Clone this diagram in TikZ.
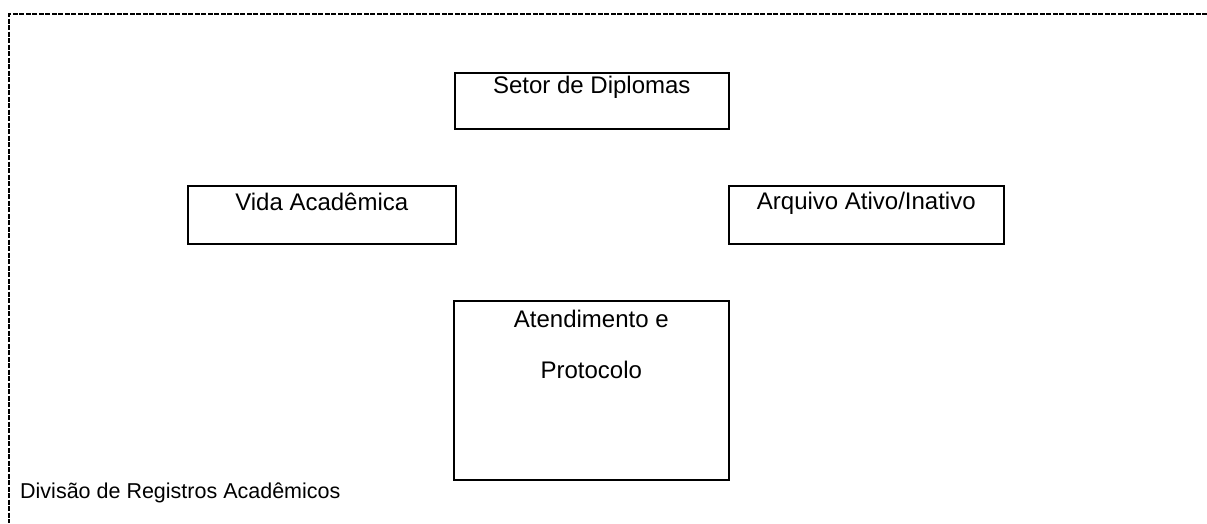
\documentclass[tikz,border=0pt]{standalone}
\usepackage{fontspec}
\setmainfont{Liberation Sans}
\begin{document}
\begin{tikzpicture}[x=1pt,y=-1pt,
  unitbox/.style={draw=black, line width=1.6pt, rectangle, inner sep=0pt, anchor=north west},
  boxtext/.style={font=\fontsize{24}{28}\selectfont, inner sep=0pt, anchor=base},
  frameline/.style={draw=black, line width=1.4pt, dash pattern=on 5pt off 1.5pt}
]
\useasboundingbox (0,0) rectangle (1207,523);
% outer dashed frame (top and left sides)
\coordinate (frameTR) at (1207,14);
\coordinate (frameTL) at (9,14);
\coordinate (frameBL) at (9,523);
\draw[frameline] (frameTR) -- (frameTL) -- (frameBL);

% boxes
\node[unitbox, minimum width=274pt, minimum height=56pt] (setor) at (454,72) {};
\node[unitbox, minimum width=268pt, minimum height=58pt] (vida) at (187,185) {};
\node[unitbox, minimum width=275pt, minimum height=58pt] (arquivo) at (728,185) {};
\node[unitbox, minimum width=275pt, minimum height=179pt] (atend) at (453,300) {};

% texts
\node[boxtext] (setorT) at ([yshift=-21pt]setor.north) {Setor de Diplomas};
\node[boxtext] (vidaT) at ([yshift=-25pt]vida.north) {Vida Acadêmica};
\node[boxtext] (arquivoT) at ([yshift=-24pt]arquivo.north) {Arquivo Ativo/Inativo};
\node[boxtext] (atendT1) at ([yshift=-27pt]atend.north) {Atendimento e};
\node[boxtext] (atendT2) at ([yshift=-78pt]atend.north) {Protocolo};

\node[font=\fontsize{21.5}{25}\selectfont, inner sep=0pt, anchor=base west] (divisao) at (20,498) {Divisão de Registros Acadêmicos};
\end{tikzpicture}
\end{document}
